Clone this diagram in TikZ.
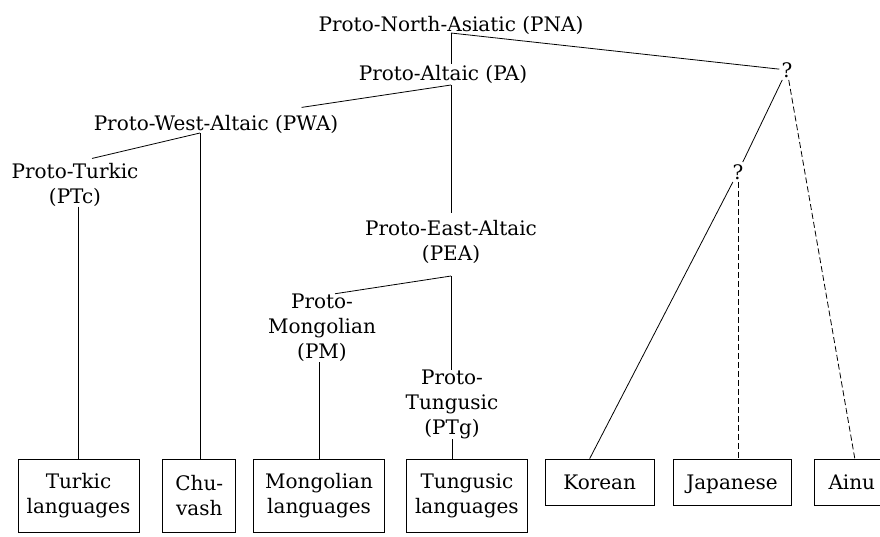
\documentclass[tikz,border=0pt]{standalone}
\usepackage{fontspec}
\setmainfont{DejaVu Serif}
\usetikzlibrary{positioning}

\begin{document}
\begin{tikzpicture}[
        x=1pt, y=-1pt,
        line width=0.8pt,
        proto/.style={inner sep=0pt, align=center, font=\fontsize{20}{25}\selectfont},
        query/.style={inner sep=2pt, font=\fontsize{20}{25}\selectfont},
        lang/.style={rectangle, draw, inner sep=0pt, align=center, minimum height=73pt, font=\fontsize{20}{25}\selectfont},
        langshort/.style={lang, minimum height=46pt, text height=16pt, text depth=2pt},
        guess/.style={dash pattern=on 6pt off 3pt}
    ]
    \useasboundingbox (0,0) rectangle (880,536);
    \clip (0,0) rectangle (880,536);

    % Proto-languages
    \node[proto, anchor=base] (pna) at (451,31) {Proto-North-Asiatic (PNA)};
    \node[proto, anchor=base] (pa) at (443,80) {Proto-Altaic (PA)};
    \node[proto, anchor=base] (pwa) at (216,130) {Proto-West-Altaic (PWA)};
    \node[proto] (ptc) at (75,184.5) {Proto-Turkic\\(PTc)};
    \node[proto] (pea) at (451,241.5) {Proto-East-Altaic\\(PEA)};
    \node[proto] (pm) at (322,328) {Proto-\\Mongolian\\(PM)};
    \node[proto] (ptg) at (452,404.5) {Proto-\\Tungusic\\(PTg)};

    % Unknown groupings
    \node[query] (q1) at (787,70) {?};
    \node[query] (q2) at (738,172) {?};

    % Languages
    \node[lang, minimum width=121pt] (turkic) at (78.5,495.5) {Turkic\\languages};
    \node[lang, minimum width=73pt, right=23pt of turkic] (chuvash) {Chu-\\vash};
    \node[lang, minimum width=131pt, right=17pt of chuvash] (mongolian) {Mongolian\\languages};
    \node[lang, minimum width=121pt, right=21pt of mongolian] (tungusic) {Tungusic\\languages};
    \node[langshort, minimum width=109pt, right=17pt of tungusic.north east, anchor=north west] (korean) {Korean};
    \node[langshort, minimum width=118pt, right=18pt of korean] (japanese) {Japanese};
    \node[langshort, minimum width=74pt, right=23pt of japanese] (ainu) {Ainu};

    % Branching points
    \coordinate (pnaJ) at (451,33);
    \coordinate (paJ) at (451,85);
    \coordinate (pwaJ) at (200,133);
    \coordinate (peaJ) at (451,276);

    % Connections
    \draw (pnaJ) -- (pnaJ |- pa.north);
    \draw (pnaJ) -- (q1);
    \draw (paJ) -- ([shift={(-37,-7)}]pwa.north east);
    \draw (paJ) -- ([yshift=6pt]pea.north);
    \draw (pwaJ) -- ([shift={(17,-4)}]ptc.north);
    \draw (pwaJ) -- (pwaJ |- chuvash.north);
    \draw (turkic.north |- ptc.south) -- (turkic.north);
    \draw (peaJ) -- ([xshift=13pt]pm.north);
    \draw (peaJ) -- (peaJ |- ptg.north);
    \draw (mongolian.north |- pm.south) -- (mongolian.north);
    \draw (ptg.south) -- (ptg.south |- tungusic.north);
    \draw (q1) -- (q2);
    \draw (q2) -- ([xshift=-10pt]korean.north);
    \draw[guess] (q2) -- (q2 |- japanese.north);
    \draw[guess] (q1) -- ([xshift=3pt]ainu.north);

\end{tikzpicture}
\end{document}
